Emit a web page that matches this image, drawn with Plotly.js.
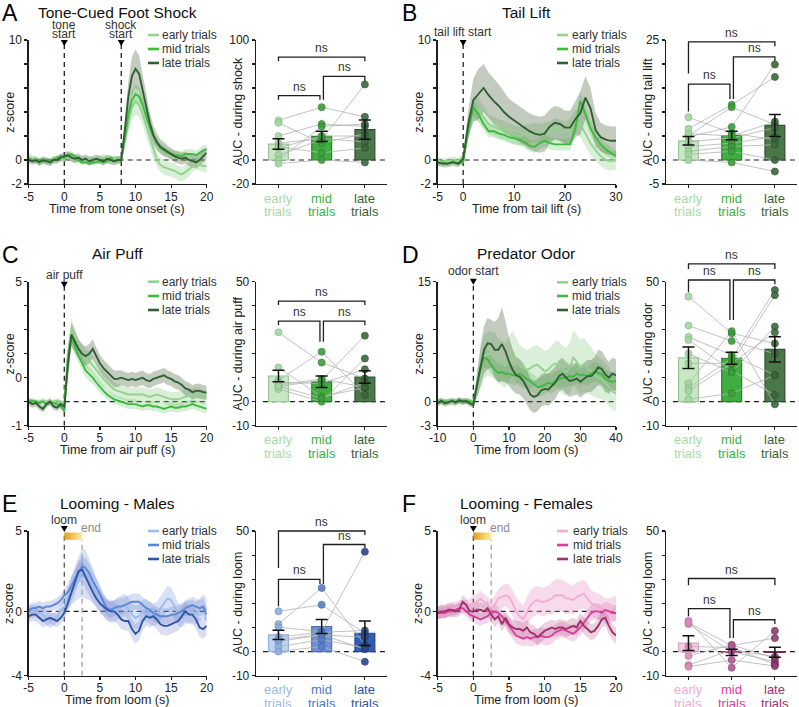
<!DOCTYPE html>
<html>
<head>
<meta charset="utf-8">
<script src="https://cdn.plot.ly/plotly-3.0.1.min.js"></script>
<style>
  html, body { margin: 0; padding: 0; background: #fff; }
  #chart { width: 799px; height: 707px; }
</style>
</head>
<body>
<div id="chart"></div>
<script>
// ---------------- time bases ----------------
const timeHalf = [-5,-4.5,-4,-3.5,-3,-2.5,-2,-1.5,-1,-0.5,
  0,0.5,1,1.5,2,2.5,3,3.5,4,4.5,
  5,5.5,6,6.5,7,7.5,8,8.5,9,9.5,
  10,10.5,11,11.5,12,12.5,13,13.5,14,14.5,
  15,15.5,16,16.5,17,17.5,18,18.5,19,19.5,
  20];
const timeTail = [-5,-4,-3,-2,-1,0,1,2,3,4,5,6,7,8,9,10,11,12,13,14,15,16,17,18,19,20,21,22,23,24,25,26,27,28,29,30];
const timeOdor = [-10,-9,-8,-7,-6,-5,-4,-3,-2,-1,
  0,1,2,3,4,5,6,7,8,9,
  10,11,12,13,14,15,16,17,18,19,
  20,21,22,23,24,25,26,27,28,29,
  30,31,32,33,34,35,36,37,38,39,
  40];

// ---------------- A: tone-cued foot shock (z-score, mean and SEM) ----------------
const shockEarly = [0.3,0.1,0.0,-0.2,0.0,-0.1,-0.2,0.0,0.1,0.2,
  0.1,0.3,0.2,0.0,0.1,-0.1,0.0,0.1,-0.1,0.0,
  0.1,0.2,0.0,-0.1,0.1,0.0,0.1,1.5,3.2,4.4,
  4.9,4.6,3.8,2.8,1.8,0.8,0.0,-0.4,-0.6,-0.7,
  -0.8,-0.9,-1.1,-1.2,-1.0,-0.8,-0.5,-0.3,-0.4,-0.5,
  -0.5];
const shockEarlySem = [0.35,0.3,0.3,0.3,0.3,0.3,0.3,0.3,0.3,0.3,
  0.3,0.35,0.35,0.3,0.3,0.3,0.3,0.3,0.3,0.3,
  0.3,0.3,0.3,0.3,0.3,0.3,0.3,0.6,0.9,1.1,
  1.1,1.0,0.9,0.8,0.7,0.7,0.6,0.6,0.6,0.6,
  0.6,0.6,0.6,0.6,0.6,0.6,0.5,0.5,0.5,0.5,
  0.5];
const shockMid = [0.1,0.0,-0.1,0.0,-0.1,0.0,-0.1,0.0,0.2,0.3,
  0.2,0.4,0.5,0.3,0.0,-0.2,-0.2,-0.3,-0.2,-0.2,
  -0.1,-0.2,-0.1,0.2,-0.1,0.0,0.0,1.8,3.8,5.0,
  5.5,5.3,4.6,3.6,2.8,2.0,1.4,1.0,0.8,0.6,
  0.5,0.4,0.4,0.3,0.5,0.5,0.5,0.4,0.6,0.8,
  0.9];
const shockMidSem = [0.2,0.2,0.2,0.2,0.2,0.2,0.2,0.2,0.2,0.2,
  0.2,0.25,0.25,0.2,0.2,0.2,0.2,0.2,0.2,0.2,
  0.2,0.2,0.2,0.2,0.2,0.2,0.2,0.5,0.7,0.8,
  0.8,0.8,0.7,0.6,0.5,0.5,0.4,0.4,0.4,0.4,
  0.4,0.4,0.4,0.4,0.4,0.4,0.4,0.4,0.4,0.4,
  0.4];
const shockLate = [0.0,-0.1,0.0,-0.2,0.0,-0.1,-0.2,0.0,0.0,0.2,
  0.3,0.4,0.2,0.1,0.2,0.0,0.1,-0.1,0.0,0.1,
  0.0,-0.1,0.1,0.0,-0.1,0.0,0.0,2.5,5.3,7.0,
  7.6,7.2,5.9,4.4,3.1,2.1,1.5,1.1,0.9,0.7,
  0.5,0.3,0.2,0.1,0.2,0.0,-0.1,-0.2,0.0,0.3,
  0.6];
const shockLateSem = [0.3,0.3,0.3,0.3,0.3,0.3,0.3,0.3,0.3,0.3,
  0.35,0.35,0.35,0.35,0.35,0.35,0.35,0.35,0.35,0.35,
  0.35,0.35,0.35,0.35,0.35,0.35,0.3,0.9,1.3,1.6,
  1.6,1.5,1.3,1.1,0.9,0.8,0.7,0.6,0.6,0.5,
  0.5,0.5,0.5,0.5,0.5,0.5,0.5,0.5,0.5,0.5,
  0.5];
// per-animal AUC during shock (same animal order in each group)
const shockAucEarly = [33, 31, 20, 14, 11, 4, 0, -3, 10];
const shockAucMid   = [44, 14, 30, 18, 6, 17, 28, 0, 20];
const shockAucLate  = [36, 22, 28, 15, 10, 63, 30, -2, 20];
const shockAucMean  = [13.3, 19.7, 25.3];
const shockAucSem   = [4.4, 4.2, 8.0];

// ---------------- B: tail lift ----------------
const tailEarly = [0.0,-0.2,-0.1,0.0,-0.1,0.2,
  2.5,4.3,4.2,3.6,3.0,2.8,2.6,2.5,2.3,2.1,
  2.0,2.1,2.2,2.3,2.2,2.3,2.4,2.6,2.5,2.3,
  2.5,3.2,3.0,2.2,1.4,0.8,0.3,0.0,-0.1,0.0];
const tailEarlySem = [0.3,0.3,0.3,0.3,0.3,0.3,
  0.7,1.0,1.0,0.9,0.8,0.8,0.8,0.8,0.8,0.8,
  0.8,0.8,0.8,0.8,0.8,0.8,0.8,0.9,0.9,0.9,
  1.0,1.0,1.1,1.1,1.0,0.9,0.8,0.8,0.8,0.8];
const tailMid = [-0.3,-0.2,-0.3,-0.1,-0.3,-0.2,
  2.5,4.4,3.8,3.0,2.4,2.4,2.2,2.1,1.9,1.8,
  1.7,1.5,1.2,1.1,1.4,1.6,1.4,1.3,1.3,1.3,
  1.3,2.6,4.9,3.8,2.6,1.9,1.3,0.9,0.6,0.3];
const tailMidSem = [0.2,0.2,0.2,0.2,0.2,0.2,
  0.5,0.6,0.6,0.5,0.5,0.5,0.5,0.5,0.5,0.5,
  0.5,0.5,0.5,0.5,0.5,0.5,0.5,0.5,0.5,0.5,
  0.5,0.7,0.8,0.7,0.6,0.5,0.5,0.5,0.5,0.5];
const tailLate = [-0.2,-0.3,-0.3,-0.2,-0.3,0.1,
  3.0,5.0,5.5,6.0,5.4,4.9,4.5,4.0,3.6,3.3,
  3.0,2.7,2.4,2.2,2.1,2.2,2.8,3.1,3.0,2.7,
  2.7,3.4,3.9,5.2,4.3,2.5,1.9,1.7,1.6,1.6];
const tailLateSem = [0.3,0.3,0.3,0.3,0.3,0.3,
  1.2,1.8,2.1,2.0,1.9,1.9,1.8,1.7,1.5,1.5,
  1.5,1.5,1.5,1.5,1.5,1.5,1.4,1.4,1.4,1.4,
  1.4,1.5,1.8,1.8,1.7,1.4,1.2,1.2,1.2,1.2];
const tailAucEarly = [8.9, 6.5, 5.1, 4.8, 3.8, 2.8, 1.8, 1.2, 0, 5.5];
const tailAucMid   = [5.6, 11.5, 11.0, 6.9, 4.6, 3.5, 2.8, 1.8, -0.5, 5.0];
const tailAucLate  = [4.2, 17.3, 7.4, 19.9, 6.7, 4.9, 3.2, 0, -2.4, 8.0];
const tailAucMean  = [4.0, 5.1, 7.2];
const tailAucSem   = [0.9, 0.9, 2.3];

// ---------------- C: air puff ----------------
const puffEarly = [0.05,0.0,-0.05,0.0,0.05,0.0,-0.05,0.0,0.05,0.0,
  -0.1,2.0,3.0,2.6,2.2,2.0,1.8,1.7,1.5,1.3,
  1.1,0.95,0.8,0.65,0.5,0.45,0.4,0.35,0.3,0.3,
  0.3,0.3,0.3,0.25,0.2,0.25,0.3,0.25,0.2,0.15,
  0.1,0.1,0.1,0.15,0.2,0.25,0.25,0.3,0.25,0.2,
  0.2];
const puffEarlySem = [0.1,0.1,0.1,0.1,0.1,0.1,0.1,0.1,0.1,0.1,
  0.1,0.4,0.5,0.45,0.4,0.4,0.4,0.4,0.35,0.35,
  0.35,0.35,0.3,0.3,0.3,0.3,0.3,0.3,0.3,0.3,
  0.3,0.3,0.3,0.3,0.3,0.3,0.3,0.3,0.3,0.3,
  0.3,0.3,0.3,0.3,0.3,0.3,0.3,0.3,0.3,0.3,
  0.3];
const puffMid = [0.0,0.05,0.0,-0.05,0.0,-0.1,0.0,-0.05,-0.1,-0.2,
  -0.4,1.8,2.7,2.3,1.9,1.6,1.3,1.15,1.0,0.8,
  0.6,0.45,0.3,0.2,0.1,0.05,0.0,-0.05,-0.1,-0.1,
  -0.1,-0.15,-0.2,-0.15,-0.15,-0.2,-0.2,-0.25,-0.3,-0.25,
  -0.2,-0.25,-0.25,-0.2,-0.2,-0.15,-0.1,-0.15,-0.2,-0.25,
  -0.3];
const puffMidSem = [0.1,0.1,0.1,0.1,0.1,0.1,0.1,0.1,0.1,0.1,
  0.15,0.35,0.4,0.35,0.3,0.3,0.3,0.3,0.25,0.25,
  0.25,0.2,0.2,0.2,0.2,0.2,0.2,0.2,0.2,0.2,
  0.2,0.2,0.2,0.2,0.2,0.2,0.2,0.2,0.2,0.2,
  0.2,0.2,0.2,0.2,0.2,0.2,0.2,0.2,0.2,0.2,
  0.2];
const puffLate = [0.0,-0.1,-0.05,-0.2,-0.3,-0.1,0.0,-0.2,-0.25,-0.1,
  -0.2,1.5,2.8,2.5,2.2,2.0,1.9,2.0,2.2,1.9,
  1.6,1.4,1.25,1.1,0.95,0.95,1.0,0.95,0.9,0.95,
  0.9,0.95,1.0,0.9,0.85,0.95,1.0,1.05,1.1,1.0,
  0.95,0.85,0.8,0.7,0.55,0.5,0.4,0.45,0.45,0.4,
  0.38];
const puffLateSem = [0.15,0.15,0.15,0.15,0.15,0.15,0.15,0.15,0.15,0.15,
  0.15,0.4,0.5,0.45,0.4,0.4,0.4,0.4,0.4,0.35,
  0.35,0.35,0.35,0.35,0.35,0.35,0.3,0.3,0.3,0.3,
  0.3,0.3,0.3,0.3,0.3,0.3,0.3,0.3,0.3,0.3,
  0.3,0.3,0.3,0.3,0.3,0.3,0.3,0.3,0.3,0.3,
  0.3];
const puffAucEarly = [28.9, 14.3, 9.0, 6.3, 5.3, 8.0, 7.0, 6.5];
const puffAucMid   = [16.3, 2.1, 20.8, 9.0, 0.0, 7.6, 9.5, 1.4];
const puffAucLate  = [9.7, 5.8, 2.8, 27.5, 18.0, 13.5, 6.0, 8.0];
const puffAucMean  = [10.7, 8.3, 10.3];
const puffAucSem   = [2.4, 2.4, 2.6];

// ---------------- D: predator odor ----------------
const odorEarly = [0.1,0.0,-0.1,0.0,-0.1,0.0,0.1,0.0,0.1,0.0,
  -0.2,2.0,4.0,5.6,6.0,5.9,5.8,5.1,4.8,4.5,
  5.4,6.0,5.2,4.5,4.2,4.0,4.2,4.5,4.6,4.2,
  3.8,4.0,4.5,4.8,4.6,4.0,3.7,4.2,5.5,5.0,
  4.3,4.6,4.2,3.8,3.4,3.0,2.8,2.4,1.9,1.3,
  1.0];
const odorEarlySem = [0.4,0.4,0.4,0.4,0.4,0.4,0.4,0.4,0.4,0.4,
  0.4,1.5,2.5,2.8,2.8,2.8,2.8,2.8,2.8,2.8,
  2.8,2.8,2.8,2.6,2.5,2.5,2.5,2.5,2.5,2.5,
  2.5,2.5,2.6,2.8,3.0,3.0,3.0,3.2,3.4,3.4,
  3.4,3.4,3.2,3.0,2.8,2.6,2.5,2.5,2.4,2.3,
  2.2];
const odorMid = [0.0,0.1,0.0,-0.1,0.1,0.0,0.0,0.1,0.0,0.1,
  -0.1,2.0,4.3,5.5,5.3,4.6,4.0,3.6,3.7,3.5,
  3.5,3.3,3.3,3.5,3.2,2.8,2.5,2.2,1.8,1.9,
  2.1,2.4,2.2,2.6,2.8,3.0,3.0,3.2,3.1,3.5,
  3.3,3.4,3.2,3.5,3.8,3.6,3.4,2.9,2.6,2.5,
  2.6];
const odorMidSem = [0.3,0.3,0.3,0.3,0.3,0.3,0.3,0.3,0.3,0.3,
  0.3,0.8,1.0,1.2,1.2,1.2,1.2,1.2,1.2,1.2,
  1.2,1.2,1.2,1.2,1.2,1.2,1.2,1.2,1.2,1.2,
  1.2,1.2,1.2,1.2,1.2,1.2,1.2,1.2,1.2,1.2,
  1.2,1.2,1.2,1.2,1.2,1.2,1.2,1.2,1.2,1.2,
  1.2];
const odorLate = [-0.2,0.1,-0.2,0.0,0.1,-0.1,0.2,0.0,0.1,-0.2,
  -0.4,2.0,4.5,6.5,7.3,7.2,6.5,6.5,7.2,6.3,
  5.0,4.0,3.3,3.1,2.6,1.8,0.9,0.6,0.8,1.4,
  1.6,1.5,1.9,2.4,3.2,3.5,3.0,2.6,2.7,2.9,
  2.5,2.8,3.2,3.2,3.6,4.3,4.1,3.4,3.0,3.5,
  3.3];
const odorLateSem = [0.4,0.4,0.4,0.4,0.4,0.4,0.4,0.4,0.4,0.4,
  0.4,1.5,2.5,3.0,3.2,3.0,3.5,4.0,4.6,3.8,
  3.0,2.6,2.3,2.2,2.2,2.2,2.0,2.0,2.0,2.0,
  2.0,2.0,2.0,2.0,2.0,2.0,2.0,2.0,2.0,2.0,
  2.0,2.0,2.0,2.0,2.0,2.2,2.2,2.2,2.0,2.0,
  2.0];
const odorAucEarly = [43.8, 31.7, 27.0, 25.7, 7.6, 5.6, 4.4, 1.0, 20.0, 16.0];
const odorAucMid   = [28.5, 25.3, 19.4, 13.0, 29.4, 18.0, 16.0, 3.5, 12.2, 16.0];
const odorAucLate  = [24.3, 20.0, 11.1, 2.8, -1.1, 46.5, 44.4, 11.0, 31.3, 28.9];
const odorAucMean  = [18.3, 18.1, 21.8];
const odorAucSem   = [4.5, 2.5, 5.3];

// ---------------- E: looming, males ----------------
const loomOnset = 0;
const loomEnd = 2.5;
const maleEarly = [-0.1,0.0,0.0,-0.1,-0.2,-0.4,-0.6,-0.5,-0.3,0.1,
  0.3,0.8,1.3,1.7,2.1,2.4,2.3,2.0,1.6,1.2,
  0.8,0.4,0.1,0.0,0.0,0.2,0.3,0.4,0.2,-0.2,
  -0.4,-0.3,0.0,0.1,-0.1,-0.2,-0.1,0.2,0.5,0.8,
  0.7,0.3,-0.2,-0.3,-0.1,0.0,0.0,-0.1,0.1,0.3,
  0.1];
const maleEarlySem = [0.4,0.4,0.4,0.4,0.45,0.45,0.45,0.4,0.4,0.4,
  0.5,0.7,0.9,1.1,1.3,1.5,1.5,1.3,1.1,0.9,
  0.8,0.7,0.7,0.7,0.7,0.7,0.7,0.7,0.7,0.7,
  0.75,0.75,0.7,0.7,0.7,0.7,0.7,0.7,0.75,0.8,
  0.8,0.75,0.7,0.7,0.7,0.7,0.7,0.7,0.75,0.75,
  0.7];
const maleMid = [0.1,0.2,0.2,0.3,0.2,0.3,0.3,0.4,0.5,0.7,
  1.0,1.2,1.6,2.0,2.4,2.8,2.7,2.4,1.9,1.5,
  1.1,0.6,0.2,0.1,0.2,0.3,0.3,0.4,0.5,0.6,
  0.6,0.6,0.4,0.2,0.1,-0.1,-0.2,-0.3,-0.3,-0.3,
  -0.2,-0.2,-0.1,0.0,0.2,0.3,0.4,0.3,0.2,0.3,
  -0.2];
const maleMidSem = [0.35,0.35,0.35,0.35,0.35,0.35,0.35,0.35,0.35,0.35,
  0.4,0.5,0.6,0.6,0.6,0.6,0.6,0.6,0.6,0.5,
  0.5,0.5,0.5,0.5,0.5,0.5,0.5,0.5,0.5,0.5,
  0.5,0.5,0.5,0.5,0.5,0.5,0.5,0.5,0.5,0.5,
  0.5,0.5,0.5,0.5,0.5,0.5,0.5,0.5,0.5,0.5,
  0.5];
const maleLate = [-0.3,-0.2,-0.2,-0.4,-0.6,-0.5,-0.4,-0.5,-0.6,-0.4,
  -0.1,0.5,1.2,1.8,2.5,2.6,2.1,1.6,1.2,0.8,
  0.5,0.3,0.1,0.0,0.0,-0.2,-0.5,-0.6,-0.6,-1.1,
  -1.4,-1.2,-0.6,-0.3,-0.4,-0.3,-0.5,-0.8,-0.9,-0.9,
  -0.8,-0.7,-0.6,-0.3,0.0,-0.2,-0.2,-0.5,-1.0,-1.1,
  -0.9];
const maleLateSem = [0.4,0.4,0.4,0.4,0.4,0.4,0.4,0.4,0.4,0.4,
  0.4,0.5,0.6,0.7,0.7,0.7,0.7,0.6,0.6,0.6,
  0.6,0.6,0.6,0.6,0.6,0.6,0.6,0.6,0.6,0.6,
  0.6,0.6,0.6,0.6,0.6,0.6,0.6,0.6,0.6,0.6,
  0.6,0.6,0.6,0.6,0.6,0.6,0.6,0.6,0.6,0.6,
  0.6];
const maleAucEarly = [16.7, 11.4, 10.1, 4.2, 2.1, 0.0, 6.0, 5.0];
const maleAucMid   = [19.4, 26.4, 8.3, 6.9, 4.9, 2.1, 8.0, 7.0];
const maleAucLate  = [7.6, 2.8, 41.4, 6.0, 1.7, -4.2, 8.75, 1.0];
const maleAucMean  = [6.9, 10.4, 7.6];
const maleAucSem   = [1.9, 2.9, 5.1];

// ---------------- F: looming, females ----------------
const femaleEarly = [-0.1,0.0,0.0,0.1,0.2,0.2,0.3,0.3,0.3,0.4,
  0.5,0.6,0.8,0.6,0.4,0.2,0.4,0.8,0.9,1.0,
  0.9,0.5,0.0,-0.3,-0.5,0.0,0.4,0.6,0.7,0.6,
  0.6,0.7,0.8,1.0,1.0,1.0,0.8,0.8,0.7,0.9,
  1.0,1.1,0.8,0.5,0.4,0.3,0.2,0.0,0.0,0.1,
  0.2];
const femaleEarlySem = [0.4,0.4,0.4,0.4,0.4,0.4,0.4,0.4,0.4,0.4,
  0.5,0.5,0.5,0.5,0.5,0.5,0.6,0.6,0.7,0.7,
  0.8,0.8,0.9,0.9,0.9,0.9,0.9,0.9,0.9,0.9,
  0.9,0.9,1.0,1.0,1.0,1.0,1.0,0.9,0.9,0.9,
  0.9,0.9,0.9,0.8,0.8,0.8,0.8,0.8,0.8,0.8,
  0.8];
const femaleMid = [-0.1,-0.1,-0.1,0.0,0.0,0.1,0.2,0.2,0.0,-0.2,
  -0.3,-0.4,-0.5,-0.4,-0.3,-0.1,0.0,-0.1,-0.3,-0.6,
  -0.9,-1.2,-1.5,-1.6,-1.7,-1.6,-1.7,-1.6,-1.6,-1.5,
  -1.6,-1.6,-1.5,-1.3,-1.2,-1.1,-1.2,-1.3,-1.4,-1.2,
  -1.0,-0.7,-0.4,-0.1,0.0,0.0,-0.1,0.1,0.0,-0.1,
  -0.1];
const femaleMidSem = [0.35,0.35,0.35,0.35,0.35,0.35,0.35,0.35,0.35,0.35,
  0.4,0.4,0.4,0.4,0.4,0.4,0.4,0.4,0.4,0.4,
  0.5,0.5,0.5,0.5,0.5,0.5,0.5,0.5,0.5,0.5,
  0.5,0.5,0.5,0.5,0.5,0.5,0.5,0.5,0.5,0.5,
  0.5,0.5,0.5,0.5,0.5,0.5,0.5,0.5,0.5,0.5,
  0.5];
const femaleLate = [-0.1,0.0,0.0,0.1,0.1,0.0,0.1,0.6,0.4,0.0,
  0.0,0.1,0.1,0.0,0.2,-0.2,-0.5,-0.3,-0.8,-0.4,
  -0.8,-1.0,-1.1,-1.1,-1.2,-1.0,-1.3,-1.4,-1.6,-1.4,
  -1.2,-1.1,-1.0,-1.1,-1.0,-1.0,-1.1,-1.0,-0.9,-1.0,
  -0.6,-0.9,-1.1,-1.3,-1.2,-0.9,-0.5,-0.4,-0.9,-1.3,
  -1.5];
const femaleLateSem = [0.4,0.4,0.4,0.4,0.4,0.4,0.4,0.4,0.4,0.4,
  0.45,0.45,0.45,0.45,0.45,0.45,0.45,0.45,0.45,0.45,
  0.5,0.5,0.5,0.5,0.5,0.5,0.5,0.5,0.5,0.5,
  0.5,0.5,0.5,0.5,0.5,0.5,0.5,0.5,0.5,0.5,
  0.5,0.5,0.5,0.5,0.5,0.5,0.5,0.5,0.5,0.5,
  0.5];
const femaleAucEarly = [12.8, 11.4, 2.1, -1.8, -5.6, -6.25, 12.0];
const femaleAucMid   = [-6.7, 0.0, 1.7, 2.8, 0.7, -3.5, 2.5];
const femaleAucLate  = [8.6, -4.2, -5.3, -2.8, -2.1, -6.0, 5.6];
const femaleAucMean  = [3.5, -0.3, -0.3];
const femaleAucSem   = [3.1, 1.3, 2.1];

const trialGroups = ['early', 'mid', 'late'];
const legendLabels = ['early trials', 'mid trials', 'late trials'];

// ---------------- styling ----------------
const W = 799, H = 707;
const FONT = '"Liberation Sans", Arial, Helvetica, sans-serif';
const INK = '#1e1e1e';
const px = v => v / W;
const py = v => 1 - v / H;

const GREEN = {
  line: ['#93d28f', '#3dba3d', '#2f5f33'],
  band: ['rgba(147,210,143,0.35)', 'rgba(61,186,61,0.22)', 'rgba(80,105,70,0.35)'],
  barFill: ['#c8e7c5', '#40ad40', '#4b784b'],
  barEdge: ['#9cc599', '#2c7f2c', '#2f512f'],
  dot: ['#a5d6a2', '#3d9d3d', '#3b683b'],
  dotEdge: ['#83b880', '#2f7f2f', '#2b4f2b'],
  label: ['#a8dba4', '#3cb23c', '#3a5f3a']
};
const BLUE = {
  line: ['#9dbde8', '#5b87d6', '#2b58a6'],
  band: ['rgba(140,165,225,0.35)', 'rgba(100,125,210,0.25)', 'rgba(110,120,200,0.25)'],
  barFill: ['#bfd2ef', '#6b91d2', '#2f5db0'],
  barEdge: ['#93aed9', '#4a6fae', '#22498f'],
  dot: ['#8eadde', '#5a7ec6', '#2b4a8b'],
  dotEdge: ['#6f90c6', '#3f62a8', '#1f3a72'],
  label: ['#9bb8e4', '#4c78c9', '#2a56a6']
};
const PINK = {
  line: ['#f3acd4', '#d8409e', '#a22f6e'],
  band: ['rgba(235,165,210,0.4)', 'rgba(215,95,170,0.25)', 'rgba(170,75,125,0.25)'],
  barFill: ['#f3cde3', '#d43d98', '#9d2f6b'],
  barEdge: ['#d9a3c3', '#a82f78', '#7a2453'],
  dot: ['#d88cb9', '#b05a91', '#8d3e6e'],
  dotEdge: ['#bb6e9c', '#8f4274', '#6f2b53'],
  label: ['#f1aad2', '#d8409c', '#a0306e']
};

// panel geometry in page pixels
const ROWS = [[40, 184], [281.7, 425.7], [531, 675.7]];
const COLS = { L: { line: [28.7, 206.7], bar: [256, 386.5] }, R: { line: [437.7, 616], bar: [666, 796.5] } };
const BAR_RANGE = [-0.52, 2.5];

const panels = [
  { letter: 'A', title: 'Tone-Cued Foot Shock', row: 0, side: 'L', pal: GREEN, t: timeHalf,
    series: [[shockEarly, shockEarlySem], [shockMid, shockMidSem], [shockLate, shockLateSem]],
    xRange: [-5, 20], xTicks: [-5, 0, 5, 10, 15, 20], xLabels: ['-5', '0', '5', '10', '15', '20'],
    yRange: [-2, 10], yTicks: [-2, 0, 2, 4, 6, 8, 10], yLabels: ['-2', '0', '', '', '', '', '10'],
    xTitle: 'Time from tone onset (s)',
    events: [{ t: 0, lines: [['tone', 25.5], ['start', 34]] }, { t: 8, lines: [['shock', 25.5], ['start', 34]] }],
    triTop: 0, legend: { x0: 148, x1: 159, tx: 161, ys: [35, 49, 63] },
    auc: [shockAucEarly, shockAucMid, shockAucLate], mean: shockAucMean, sem: shockAucSem,
    aucRange: [-20, 100], aucTicks: [-20, 0, 20, 40, 60, 80, 100], aucLabels: ['-20', '0', '', '', '', '', '100'],
    aucTitle: 'AUC - during shock',
    brackets: [[0, 0.96, 53.6, 50.3, 50.3], [1.04, 2, 69.7, 50.3, 65.6], [0, 2, 85.8, 82.2, 82.2]] },
  { letter: 'B', title: 'Tail Lift', row: 0, side: 'R', pal: GREEN, t: timeTail,
    series: [[tailEarly, tailEarlySem], [tailMid, tailMidSem], [tailLate, tailLateSem]],
    xRange: [-5, 30], xTicks: [-5, 0, 10, 20, 30], xLabels: ['-5', '0', '10', '20', '30'],
    yRange: [-2, 10], yTicks: [-2, 0, 2, 4, 6, 8, 10], yLabels: ['-2', '0', '', '', '', '', '10'],
    xTitle: 'Time from tail lift (s)',
    events: [{ t: 0, lines: [['tail lift start', 32.5]] }],
    triTop: 0, legend: { x0: 557, x1: 568, tx: 571, ys: [35, 49, 63] },
    auc: [tailAucEarly, tailAucMid, tailAucLate], mean: tailAucMean, sem: tailAucSem,
    aucRange: [-5, 25], aucTicks: [-5, 0, 5, 10, 15, 20, 25], aucLabels: ['-5', '0', '', '', '', '', '25'],
    aucTitle: 'AUC - during tail lift',
    brackets: [[0, 0.96, 15.8, 10.1, 12.7], [1.04, 2, 21.5, 12.7, 20.6], [0, 2, 24.6, 18.0, 23.7]] },
  { letter: 'C', title: 'Air Puff', row: 1, side: 'L', pal: GREEN, t: timeHalf,
    series: [[puffEarly, puffEarlySem], [puffMid, puffMidSem], [puffLate, puffLateSem]],
    xRange: [-5, 20], xTicks: [-5, 0, 5, 10, 15, 20], xLabels: ['-5', '0', '5', '10', '15', '20'],
    yRange: [-1, 5], yTicks: [-1, 0, 1, 2, 3, 4, 5], yLabels: ['-1', '', '0', '', '', '', '5'],
    xTitle: 'Time from air puff (s)',
    events: [{ t: 0, lines: [['air puff', 275]] }],
    triTop: 0, legend: { x0: 148, x1: 159, tx: 161, ys: [281.7, 296, 310] },
    auc: [puffAucEarly, puffAucMid, puffAucLate], mean: puffAucMean, sem: puffAucSem,
    aucRange: [-10, 50], aucTicks: [-10, 0, 10, 20, 30, 40, 50], aucLabels: ['-10', '0', '', '', '', '', '50'],
    aucTitle: 'AUC - during air puff',
    brackets: [[0, 0.96, 33.6, 31.9, 25], [1.04, 2, 33.6, 25, 31.9], [0, 2, 41.9, 40.3, 40.3]] },
  { letter: 'D', title: 'Predator Odor', row: 1, side: 'R', pal: GREEN, t: timeOdor,
    series: [[odorEarly, odorEarlySem], [odorMid, odorMidSem], [odorLate, odorLateSem]],
    xRange: [-10, 40], xTicks: [-10, 0, 10, 20, 30, 40], xLabels: ['-10', '0', '10', '20', '30', '40'],
    yRange: [-3, 15], yTicks: [-3, 0, 3, 6, 9, 12, 15], yLabels: ['-3', '0', '', '', '', '', '15'],
    xTitle: 'Time from loom (s)',
    events: [{ t: 0, lines: [['odor start', 271]] }],
    triTop: -3, legend: { x0: 557, x1: 568, tx: 571, ys: [282.3, 296, 310] },
    auc: [odorAucEarly, odorAucMid, odorAucLate], mean: odorAucMean, sem: odorAucSem,
    aucRange: [-10, 50], aucTicks: [-10, 0, 10, 20, 30, 40, 50], aucLabels: ['-10', '0', '', '', '', '', '50'],
    aucTitle: 'AUC - during odor',
    brackets: [[0, 0.96, 50.7, 45.6, 34], [1.04, 2, 50.7, 34, 48.9], [0, 2, 57.4, 55.3, 55.3]] },
  { letter: 'E', title: 'Looming - Males', row: 2, side: 'L', pal: BLUE, t: timeHalf,
    series: [[maleEarly, maleEarlySem], [maleMid, maleMidSem], [maleLate, maleLateSem]],
    xRange: [-5, 20], xTicks: [-5, 0, 5, 10, 15, 20], xLabels: ['-5', '0', '5', '10', '15', '20'],
    yRange: [-4, 5], yTicks: [-4, 0, 5], yLabels: ['-4', '0', '5'],
    xTitle: 'Time from loom (s)',
    events: [{ t: 0, lines: [['loom', 520]] }], loom: true, onsetColor: '#555',
    triTop: -5, legend: { x0: 148, x1: 159, tx: 161, ys: [531, 545, 559] },
    auc: [maleAucEarly, maleAucMid, maleAucLate], mean: maleAucMean, sem: maleAucSem,
    aucRange: [-10, 50], aucTicks: [-10, 0, 10, 20, 30, 40, 50], aucLabels: ['-10', '0', '', '', '', '', '50'],
    aucTitle: 'AUC - during loom',
    brackets: [[0, 0.96, 29.9, 18.75, 28], [1.04, 2, 44.4, 28, 43], [0, 2, 50, 34.7, 48.3]] },
  { letter: 'F', title: 'Looming - Females', row: 2, side: 'R', pal: PINK, t: timeHalf,
    series: [[femaleEarly, femaleEarlySem], [femaleMid, femaleMidSem], [femaleLate, femaleLateSem]],
    xRange: [-5, 20], xTicks: [-5, 0, 5, 10, 15, 20], xLabels: ['-5', '0', '5', '10', '15', '20'],
    yRange: [-4, 5], yTicks: [-4, 0, 5], yLabels: ['-4', '0', '5'],
    xTitle: 'Time from loom (s)',
    events: [{ t: 0, lines: [['loom', 520]] }], loom: true, onsetColor: INK,
    triTop: -5, legend: { x0: 557, x1: 568, tx: 572, ys: [531, 545, 559] },
    auc: [femaleAucEarly, femaleAucMid, femaleAucLate], mean: femaleAucMean, sem: femaleAucSem,
    aucRange: [-10, 50], aucTicks: [-10, 0, 10, 20, 30, 40, 50], aucLabels: ['-10', '0', '', '', '', '', '50'],
    aucTitle: 'AUC - during loom',
    brackets: [[0, 0.96, 17.8, 14.6, 5.6], [1.04, 2, 13.2, 5.6, 11.4], [0, 2, 30.3, 27.5, 27.5]] }
];

// ---------------- build figure ----------------
const data = [];
const shapes = [];
const annotations = [];
const layout = {
  width: W, height: H, margin: { l: 0, r: 0, t: 0, b: 0 },
  paper_bgcolor: '#ffffff', plot_bgcolor: 'rgba(0,0,0,0)', showlegend: false,
  font: { family: FONT, size: 12, color: '#222' }
};
const AX = {
  showgrid: false, zeroline: false, showline: true, linecolor: INK, linewidth: 1.3,
  ticks: 'outside', ticklen: 3, tickwidth: 1.2, tickcolor: INK,
  tickfont: { family: FONT, size: 12, color: '#222' }, fixedrange: true
};
const sfx = n => (n === 1 ? '' : String(n));

function note(text, x, y, extra) {
  annotations.push(Object.assign({
    text, x, y, xref: 'paper', yref: 'paper', showarrow: false,
    xanchor: 'center', yanchor: 'middle', borderpad: 0,
    font: { family: FONT, size: 12, color: '#222' }
  }, extra || {}));
}
const dashLine = (xref, yref, x0, y0, x1, y1, color, width, dash) => shapes.push({
  type: 'line', xref, yref, x0, y0, x1, y1, layer: 'below',
  line: { color, width, dash }
});

panels.forEach((P, i) => {
  const a = 2 * i + 1, b = 2 * i + 2;
  const xa = 'x' + sfx(a), ya = 'y' + sfx(a), xb = 'x' + sfx(b), yb = 'y' + sfx(b);
  const [top, bot] = ROWS[P.row];
  const C = COLS[P.side];
  const yDom = [py(bot), py(top)];
  const pal = P.pal;

  layout['xaxis' + sfx(a)] = Object.assign({}, AX, { domain: [px(C.line[0]), px(C.line[1])], range: P.xRange,
    tickmode: 'array', tickvals: P.xTicks, ticktext: P.xLabels, anchor: ya, ticklabelstandoff: -2 });
  layout['yaxis' + sfx(a)] = Object.assign({}, AX, { domain: yDom, range: P.yRange,
    tickmode: 'array', tickvals: P.yTicks, ticktext: P.yLabels, anchor: xa });
  layout['xaxis' + sfx(b)] = Object.assign({}, AX, { domain: [px(C.bar[0]), px(C.bar[1])], range: BAR_RANGE,
    tickmode: 'array', tickvals: [0, 1, 2], showticklabels: false, anchor: yb });
  layout['yaxis' + sfx(b)] = Object.assign({}, AX, { domain: yDom, range: P.aucRange,
    tickmode: 'array', tickvals: P.aucTicks, ticktext: P.aucLabels, anchor: xb });

  // ---- trace panel: SEM bands then mean lines ----
  P.series.forEach(([m, s], k) => {
    const upper = m.map((v, j) => v + s[j]);
    const lower = m.map((v, j) => v - s[j]);
    data.push({ type: 'scatter', mode: 'lines', xaxis: xa, yaxis: ya, hoverinfo: 'skip',
      x: P.t.concat(P.t.slice().reverse()), y: upper.concat(lower.slice().reverse()),
      fill: 'toself', fillcolor: pal.band[k], line: { width: 0 } });
  });
  P.series.forEach(([m], k) => {
    data.push({ type: 'scatter', mode: 'lines', xaxis: xa, yaxis: ya, x: P.t, y: m,
      line: { color: pal.line[k], width: 1.9 } });
  });

  // baseline
  dashLine(xa, ya, P.xRange[0], 0, P.xRange[1], 0, INK, 1.2, '5px,4px');

  // stimulus onset markers
  P.events.forEach(ev => {
    const yTopLine = P.loom ? 4.9 : P.yRange[1];
    dashLine(xa, ya, ev.t, P.yRange[0], ev.t, yTopLine, P.onsetColor || INK, 1.3, '5px,4px');
    shapes.push({ type: 'path', xref: xa, yref: 'paper', xsizemode: 'pixel', ysizemode: 'pixel',
      xanchor: ev.t, yanchor: py(top), fillcolor: '#000', line: { width: 0 },
      path: `M-3.5,${-P.triTop} L3.5,${-P.triTop} L0,${-P.triTop - 6} Z` });
    ev.lines.forEach(([txt, yy]) => annotations.push({ text: txt, xref: xa, x: ev.t, yref: 'paper', y: py(yy),
      showarrow: false, xanchor: 'center', yanchor: 'middle', borderpad: 0,
      font: { family: FONT, size: 12, color: '#333' } }));
  });

  if (P.loom) {
    data.push({ type: 'scatter', mode: 'lines', xaxis: xa, yaxis: ya, hoverinfo: 'skip',
      x: [loomOnset, loomEnd, loomEnd, loomOnset, loomOnset], y: [4.45, 4.45, 4.9, 4.9, 4.45],
      fill: 'toself', line: { width: 0, color: 'rgba(0,0,0,0)' },
      fillgradient: { type: 'horizontal', colorscale: [[0, '#e2a018'], [1, '#fbeba6']] } });
    dashLine(xa, ya, loomEnd, P.yRange[0], loomEnd, 4.45, '#9a9a9a', 1.2, '5px,4px');
    annotations.push({ text: 'end', xref: xa, x: loomEnd - 0.3, yref: 'paper', y: py(528),
      showarrow: false, xanchor: 'left', yanchor: 'middle', borderpad: 0,
      font: { family: FONT, size: 12, color: '#8c8c8c' } });
  }

  // legend
  P.legend.ys.forEach((yy, k) => {
    shapes.push({ type: 'line', xref: 'paper', yref: 'paper', x0: px(P.legend.x0), x1: px(P.legend.x1),
      y0: py(yy), y1: py(yy), line: { color: pal.line[k], width: 2.6 } });
    note(legendLabels[k], px(P.legend.tx), py(yy), { xanchor: 'left', font: { family: FONT, size: 12, color: '#333' } });
  });

  // titles
  const cx = (C.line[0] + C.line[1]) / 2 - 0.5;
  note(P.letter, px(P.side === 'L' ? 1 : 401), py(top - 27), { xanchor: 'left', font: { family: FONT, size: 23, color: '#000' } });
  note(P.title, px(cx), py(top - 28), { font: { family: FONT, size: 15.5, color: '#111' } });
  note(P.xTitle, px(cx), py(bot + 24.5), { font: { family: FONT, size: 12.5, color: '#222' } });
  note('z-score', px(C.line[0] - 19), py((top + bot) / 2), { textangle: -90, font: { family: FONT, size: 12.5, color: '#222' } });

  // ---- AUC panel ----
  data.push({ type: 'bar', xaxis: xb, yaxis: yb, x: [0, 1, 2], y: P.mean, width: 0.46,
    marker: { color: pal.barFill, line: { color: pal.barEdge, width: 1.2 } } });
  dashLine(xb, yb, -0.36, 0, BAR_RANGE[1], 0, INK, 1.2, '5px,4px');

  const lx = [], ly = [];
  P.auc[0].forEach((v, j) => { lx.push(0, 1, 2, null); ly.push(P.auc[0][j], P.auc[1][j], P.auc[2][j], null); });
  data.push({ type: 'scatter', mode: 'lines', xaxis: xb, yaxis: yb, x: lx, y: ly,
    line: { color: '#b3b3b3', width: 0.8 }, connectgaps: false, hoverinfo: 'skip' });
  P.auc.forEach((vals, k) => {
    data.push({ type: 'scatter', mode: 'markers', xaxis: xb, yaxis: yb, x: vals.map(() => k), y: vals,
      marker: { size: 7, color: pal.dot[k], opacity: 0.9, line: { color: pal.dotEdge[k], width: 0.8 } } });
  });
  data.push({ type: 'scatter', mode: 'markers', xaxis: xb, yaxis: yb, x: [0, 1, 2], y: P.mean,
    marker: { size: 2, opacity: 0 },
    error_y: { type: 'data', array: P.sem, visible: true, color: '#111', thickness: 1.5, width: 6 } });

  // significance brackets (vertical placement converted to page fraction)
  const yFrac = v => yDom[0] + (v - P.aucRange[0]) / (P.aucRange[1] - P.aucRange[0]) * (yDom[1] - yDom[0]);
  P.brackets.forEach(([x0, x1, yh, y0, y1]) => {
    shapes.push({ type: 'path', xref: xb, yref: 'paper', line: { color: INK, width: 1.3 },
      path: `M${x0},${yFrac(y0)} L${x0},${yFrac(yh)} L${x1},${yFrac(yh)} L${x1},${yFrac(y1)}` });
    annotations.push({ text: 'ns', xref: xb, x: (x0 + x1) / 2, yref: 'paper', y: yFrac(yh),
      yshift: 1, showarrow: false, xanchor: 'center', yanchor: 'bottom', borderpad: 0,
      font: { family: FONT, size: 12, color: '#333' } });
  });

  // group labels
  trialGroups.forEach((g, k) => {
    annotations.push({ text: g, xref: xb, x: k, yref: 'paper', y: py(bot + 14), showarrow: false,
      xanchor: 'center', yanchor: 'middle', borderpad: 0, font: { family: FONT, size: 13, color: pal.label[k] } });
    annotations.push({ text: 'trials', xref: xb, x: k, yref: 'paper', y: py(bot + 27.5), showarrow: false,
      xanchor: 'center', yanchor: 'middle', borderpad: 0, font: { family: FONT, size: 13, color: pal.label[k] } });
  });
  note(P.aucTitle, px(C.bar[0] - 18), py((top + bot) / 2), { textangle: -90, font: { family: FONT, size: 12.5, color: '#222' } });
});

layout.shapes = shapes;
layout.annotations = annotations;

Plotly.newPlot('chart', data, layout, { staticPlot: true, displayModeBar: false });
</script>
</body>
</html>
